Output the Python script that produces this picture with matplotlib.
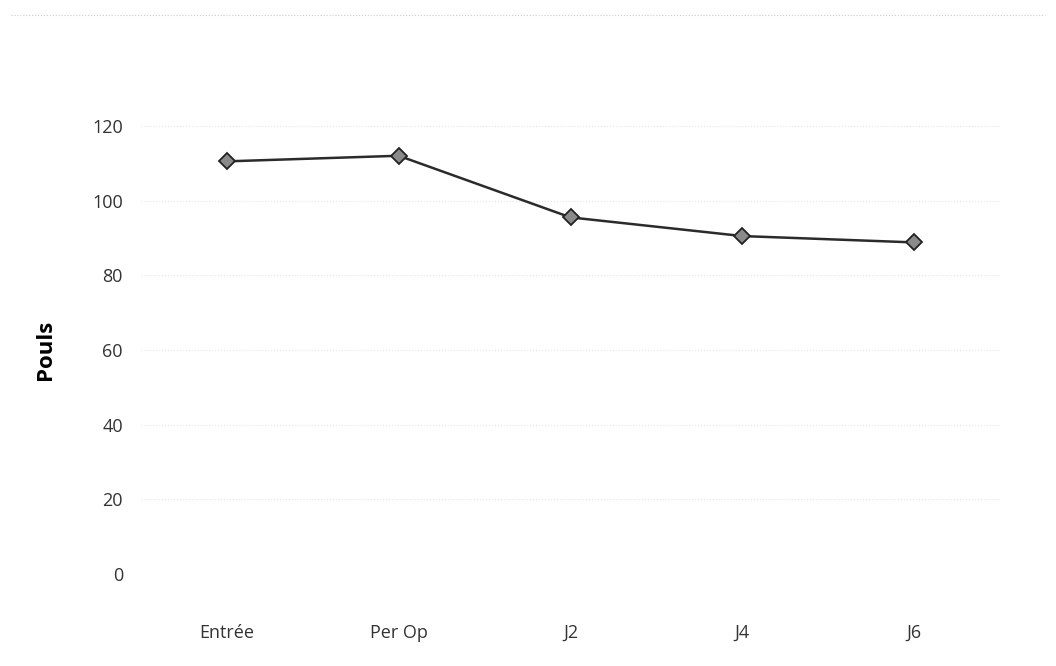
import matplotlib.pyplot as plt

# Pulse over time
stages = ["Entrée", "Per Op", "J2", "J4", "J6"]
pouls = [110.5, 112, 95.5, 90.5, 88.8]
y_ticks = [0, 20, 40, 60, 80, 100, 120]

plt.rcParams["font.family"] = ["Open Sans", "DejaVu Sans"]

fig = plt.figure(figsize=(10.56, 6.66), dpi=100)
ax = fig.add_axes([0.1335, 0.138, 0.8135, 0.673])

x = list(range(len(stages)))
ax.plot(x, pouls, color="#2b2b2b", linewidth=1.8, marker="D", markersize=8,
        markerfacecolor="#8a8a8a", markeredgecolor="#222222", markeredgewidth=1.3,
        clip_on=False, zorder=3)

ax.set_xlim(-0.5, 4.5)
ax.set_ylim(0, 120)
ax.set_xticks(x)
ax.set_xticklabels(stages, fontsize=13, color="#333333")
ax.set_yticks(y_ticks)
ax.set_yticklabels([str(v) for v in y_ticks], fontsize=13, color="#333333")
ax.tick_params(length=0)
ax.tick_params(axis="y", pad=13)
ax.tick_params(axis="x", pad=36)
ax.grid(axis="y", color="#e4e4e4", linestyle=":", linewidth=0.8)
for s in ax.spines.values():
    s.set_visible(False)

ax.set_ylabel("Pouls", fontsize=16, fontweight="bold", labelpad=26)

# faint dotted border of the scanned chart frame
fig.add_artist(plt.Line2D([0.01, 0.99], [0.978, 0.978], color="#cccccc",
                          linestyle=":", linewidth=0.8))

fig.savefig("out.png", dpi=100)
